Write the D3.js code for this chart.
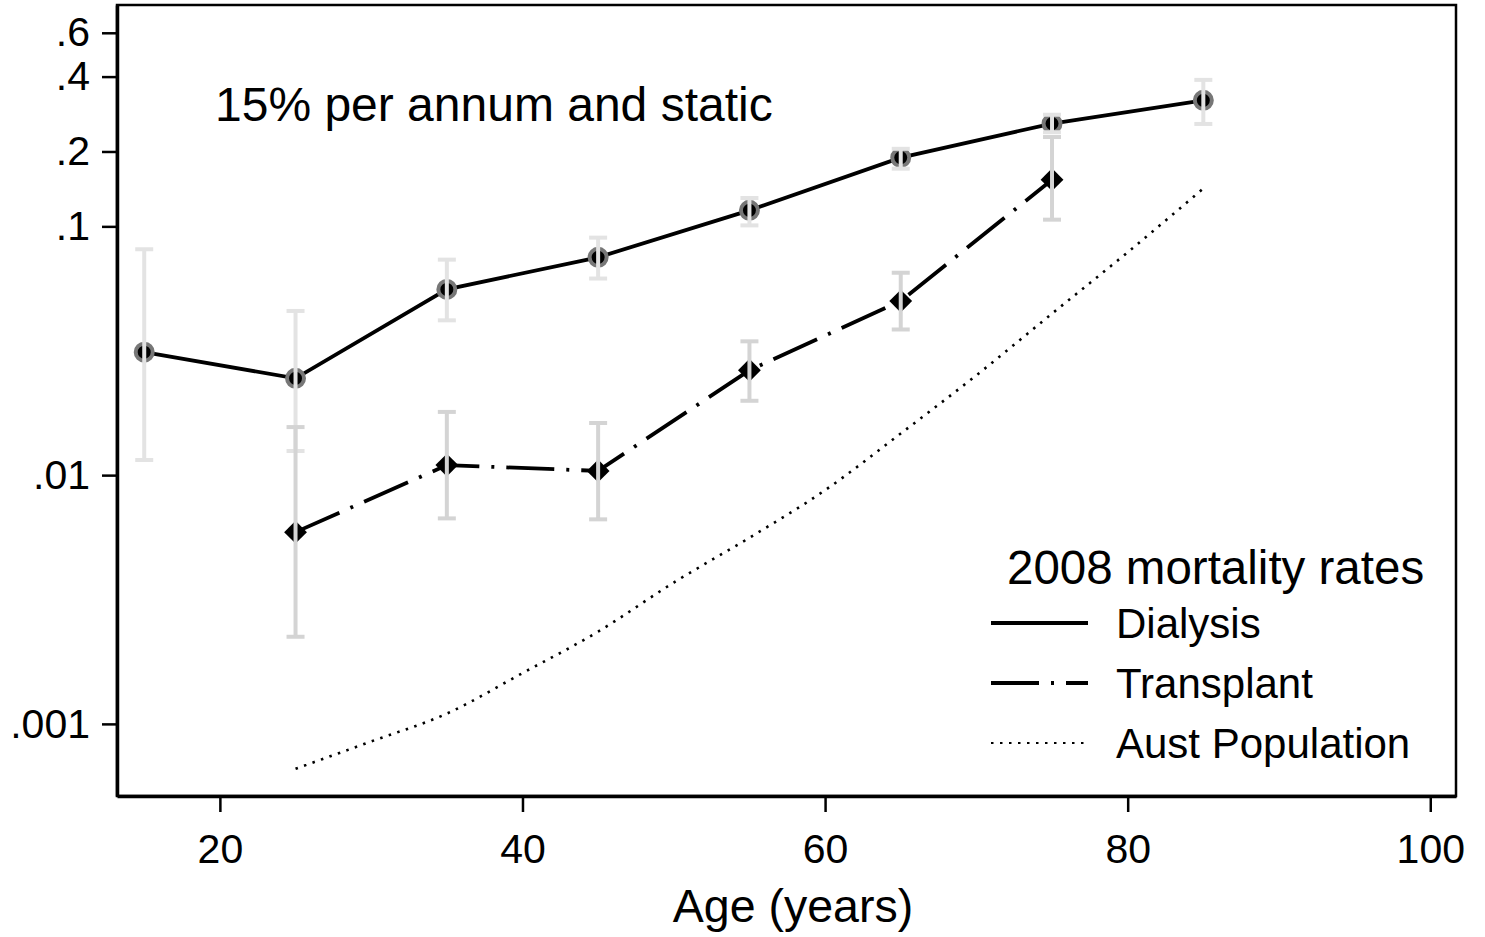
<!DOCTYPE html>
<html>
<head>
<meta charset="utf-8">
<script src="https://cdn.jsdelivr.net/npm/d3@7"></script>
<style>
  body { margin: 0; background: #fff; }
  text { font-family: "Liberation Sans", Arial, sans-serif; fill: #000; }
</style>
</head>
<body>
<script>
var width = 1485;
var height = 937;

// data
var ages = [15, 25, 35, 45, 55, 65, 75, 85];
var dialysis = [0.0312, 0.0245, 0.0558, 0.0751, 0.116, 0.189, 0.259, 0.321];
var dialysisLo = [0.0115, 0.0125, 0.0419, 0.0617, 0.1009, 0.1706, 0.239, 0.258];
var dialysisHi = [0.0809, 0.0457, 0.0735, 0.0901, 0.130, 0.205, 0.281, 0.388];

var transAges = [25, 35, 45, 55, 65, 75];
var transplant = [0.0059, 0.01097, 0.0104, 0.0264, 0.0501, 0.154];
var transLo = [0.00224, 0.0067, 0.00664, 0.0199, 0.0385, 0.1064];
var transHi = [0.0156, 0.01795, 0.0162, 0.0345, 0.0651, 0.2286];

var popAges = [25, 30, 35, 40, 45, 50, 55, 60, 65, 70, 75, 80, 85];
var population = [0.00066, 0.00085, 0.0011, 0.0016, 0.00235, 0.0037, 0.0056, 0.0087, 0.0147, 0.0252, 0.0446, 0.0787, 0.142];

var xTicks = [20, 40, 60, 80, 100];
var yTicks = [0.001, 0.01, 0.1, 0.2, 0.4, 0.6];
var yLabels = [".001", ".01", ".1", ".2", ".4", ".6"];

var legendNames = ["Dialysis", "Transplant", "Aust Population"];
var legendDash = [null, "48 12 3 12", "2.5 6.5"];

var plotLeft = 117, plotRight = 1456, plotTop = 5, plotBottom = 796;

var svg = d3.select("body")
            .append("svg")
            .attr("width", width)
            .attr("height", height);

svg.append("rect").attr("width", width).attr("height", height).attr("fill", "#fff");

var x = d3.scaleLinear().domain([13.2, 101.7]).range([plotLeft, plotRight]);
var y = d3.scaleLog().domain([0.000513, 0.776]).range([plotBottom, plotTop]);

// plot frame
svg.append("rect")
  .attr("x", plotLeft).attr("y", plotTop)
  .attr("width", plotRight - plotLeft).attr("height", plotBottom - plotTop)
  .attr("fill", "none").attr("stroke", "#000").attr("stroke-width", 2.5);

var yAxis = svg.append("g")
  .attr("transform", "translate(" + plotLeft + ",0)")
  .call(d3.axisLeft(y).tickValues(yTicks)
        .tickFormat(function(d, i) { return yLabels[i]; })
        .tickSize(15).tickSizeOuter(0).tickPadding(12));

var xAxis = svg.append("g")
  .attr("transform", "translate(0," + plotBottom + ")")
  .call(d3.axisBottom(x).tickValues(xTicks)
        .tickSize(16).tickSizeOuter(0).tickPadding(22));

[yAxis, xAxis].forEach(function(g) {
  g.select(".domain").attr("stroke", "#000").attr("stroke-width", 3.5);
  g.selectAll(".tick line").attr("stroke", "#000").attr("stroke-width", 2.5);
  g.selectAll(".tick text")
    .attr("font-size", 41)
    .attr("font-family", "Liberation Sans, Arial, sans-serif")
    .attr("fill", "#000");
});

svg.append("text")
  .attr("x", 793).attr("y", 922)
  .attr("text-anchor", "middle")
  .attr("font-size", 46.5)
  .text("Age (years)");

svg.append("text")
  .attr("x", 215).attr("y", 121)
  .attr("font-size", 48)
  .text("15% per annum and static");

var line = d3.line()
  .x(function(d) { return x(d[0]); })
  .y(function(d) { return y(d[1]); });

// Aust population
svg.append("path")
  .datum(d3.zip(popAges, population))
  .attr("d", line.curve(d3.curveMonotoneX))
  .attr("fill", "none").attr("stroke", "#000")
  .attr("stroke-width", 2.6).attr("stroke-dasharray", legendDash[2]);

line.curve(d3.curveLinear);

svg.append("path")
  .datum(d3.zip(ages, dialysis))
  .attr("d", line)
  .attr("fill", "none").attr("stroke", "#000").attr("stroke-width", 3.8);

svg.append("path")
  .datum(d3.zip(transAges, transplant))
  .attr("d", line)
  .attr("fill", "none").attr("stroke", "#000").attr("stroke-width", 3.8)
  .attr("stroke-dasharray", legendDash[1]);

// markers
svg.selectAll(".dmark")
  .data(d3.zip(ages, dialysis))
  .enter().append("circle")
  .attr("cx", function(d) { return x(d[0]); })
  .attr("cy", function(d) { return y(d[1]); })
  .attr("r", 8.5)
  .attr("fill", "#000").attr("stroke", "#777").attr("stroke-width", 4);

var diamond = d3.symbol().type(d3.symbolSquare).size(260);
svg.selectAll(".tmark")
  .data(d3.zip(transAges, transplant))
  .enter().append("path")
  .attr("d", diamond)
  .attr("transform", function(d) {
    return "translate(" + x(d[0]) + "," + y(d[1]) + ") rotate(45)";
  })
  .attr("fill", "#000");

// confidence interval caps
var drawCaps = function(xs, lo, hi, colour) {
  var g = svg.append("g").attr("stroke", colour).attr("stroke-width", 4);
  xs.forEach(function(a, i) {
    g.append("line")
      .attr("x1", x(a)).attr("x2", x(a))
      .attr("y1", y(lo[i])).attr("y2", y(hi[i]));
    [lo[i], hi[i]].forEach(function(v) {
      g.append("line")
        .attr("x1", x(a) - 9).attr("x2", x(a) + 9)
        .attr("y1", y(v)).attr("y2", y(v));
    });
  });
};
drawCaps(ages, dialysisLo, dialysisHi, "#e3e3e3");
drawCaps(transAges, transLo, transHi, "#d4d4d4");

// legend
svg.append("text")
  .attr("x", 1007).attr("y", 584)
  .attr("font-size", 47.5)
  .text("2008 mortality rates");

legendNames.forEach(function(name, i) {
  var ly = 623 + i * 60;
  svg.append("line")
    .attr("x1", 991).attr("x2", 1088)
    .attr("y1", ly).attr("y2", ly)
    .attr("stroke", "#000")
    .attr("stroke-width", i === 2 ? 2.2 : 3.8)
    .attr("stroke-dasharray", legendDash[i]);
  svg.append("text")
    .attr("x", 1116).attr("y", ly + 15)
    .attr("font-size", 42)
    .text(name);
});
</script>
</body>
</html>
